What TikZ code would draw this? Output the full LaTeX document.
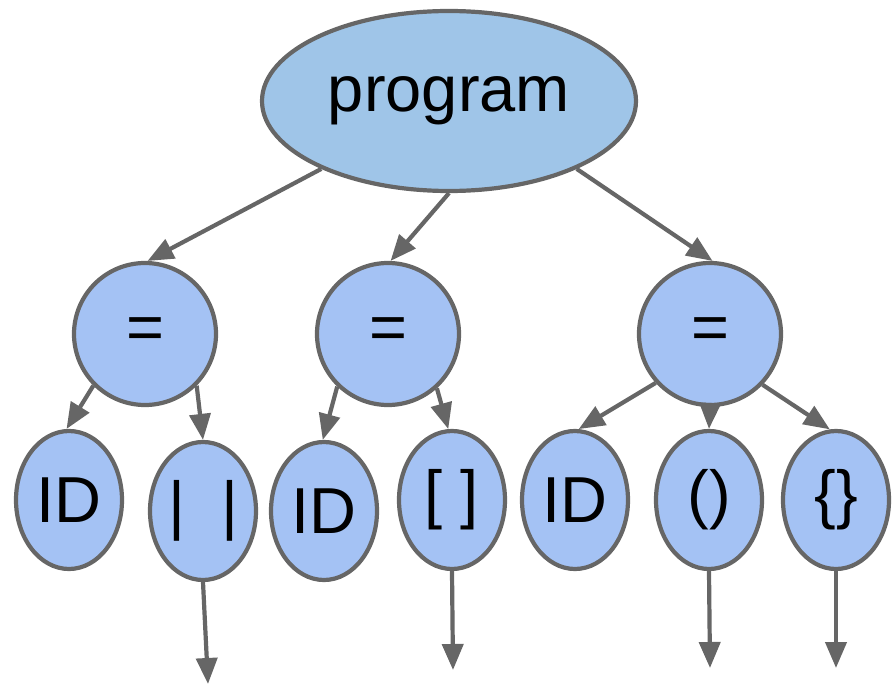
\documentclass[tikz,border=0pt]{standalone}
\usepackage{fontspec}
\setmainfont{Liberation Sans}
\usetikzlibrary{shapes.geometric,arrows.meta}
\definecolor{progfill}{HTML}{9FC5E8}
\definecolor{nodefill}{HTML}{A4C2F4}
\definecolor{edge}{HTML}{666666}
\begin{document}
\begin{tikzpicture}[x=1pt,y=-1pt,
  base/.style={draw=edge,line width=4.2pt,inner sep=0pt,font=\fontsize{65}{72}\selectfont},
  prognode/.style={base,ellipse,fill=progfill,minimum width=374pt,minimum height=180pt},
  opnode/.style={base,circle,fill=nodefill,minimum size=142pt},
  leafnode/.style={base,ellipse,fill=nodefill,minimum width=106pt,minimum height=138pt},
  arr/.style={draw=edge,line width=4.2pt,-{Triangle[length=26pt,width=21pt]}}]
\useasboundingbox (0,0) rectangle (895,685);
\node[prognode] (prog) at (449,101) {program};
\node[opnode] (eq1) at (145,334) {=};
\node[opnode] (eq2) at (388,334) {=};
\node[opnode] (eq3) at (710,334) {=};
\node[leafnode] (id1) at (69,500) {ID};
\node[leafnode] (bar) at (203,511) {|\ \ |};
\node[leafnode] (id2) at (324,511) {ID};
\node[leafnode] (brk) at (452,500) {[ ]};
\node[leafnode] (id3) at (575,500) {ID};
\node[leafnode] (par) at (709,500) {()};
\node[leafnode] (brc) at (836,500) {\{\}};
\coordinate (e1) at (208,684);
\coordinate (e2) at (453,670);
\coordinate (e3) at (710,668);
\coordinate (e4) at (836,668);
\draw[arr] (prog.-152) -- (eq1.88);
\draw[arr] (prog.270) -- (eq2.88);
\draw[arr] (prog.-28) -- (eq3.88);
\draw[arr] (eq1.-135) -- (id1.92);
\draw[arr] (eq1.-45) -- (bar.90);
\draw[arr] (eq2.-134) -- (id2.91);
\draw[arr] (eq2.-48) -- (brk.93);
\draw[arr] (eq3.-138) -- (id3.87);
\draw[arr] (eq3.270) -- (par.90);
\draw[arr] (eq3.-44) -- (brc.95);
\draw[arr] (bar.270) -- (e1);
\draw[arr] (brk.270) -- (e2);
\draw[arr] (par.270) -- (e3);
\draw[arr] (brc.270) -- (e4);
\end{tikzpicture}
\end{document}
